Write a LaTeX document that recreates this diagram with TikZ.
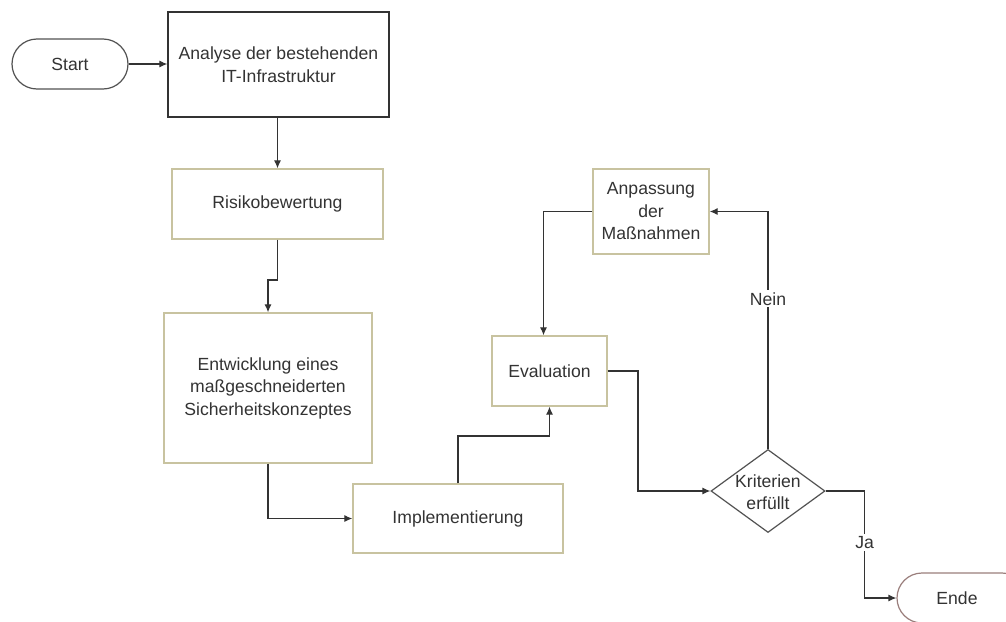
\documentclass[tikz,border=0pt]{standalone}
\usepackage{fontspec}
\setmainfont{Liberation Sans}
\usetikzlibrary{arrows.meta,shapes.geometric,shapes.misc}
\definecolor{olive}{HTML}{C8C3A0}
\definecolor{ink}{HTML}{333333}
\definecolor{endc}{HTML}{9A7E7C}
\begin{document}
\begin{tikzpicture}[x=1pt,y=-1pt,
  every node/.style={font=\fontsize{17.6}{22.5}\selectfont, text=ink},
  box/.style={draw=olive, line width=1.3pt, rectangle, align=center, inner sep=2pt},
  term/.style={draw=#1, line width=1.2pt, rounded rectangle, minimum height=50pt, inner sep=0pt},
  arr/.style={draw=ink, line width=1.2pt, -{Latex[length=8pt,width=7pt]}},
  lab/.style={fill=white, inner sep=2pt}]
\clip (0,0) rectangle (1006,621);
\fill[white] (0,0) rectangle (1006,621);

\node[term=ink!85, minimum width=116pt] (start) at (70,64) {Start};
\node[box, draw=ink, minimum width=221pt, minimum height=105pt] (analyse) at (278.5,64.5) {Analyse der bestehenden\\IT-Infrastruktur};
\node[box, minimum width=211pt, minimum height=70pt] (risiko) at (277.5,204) {Risikobewertung};
\node[box, minimum width=208pt, minimum height=150pt] (entw) at (268,388) {Entwicklung eines\\maßgeschneiderten\\Sicherheitskonzeptes};
\node[box, minimum width=210pt, minimum height=69pt] (impl) at (458,518.5) {Implementierung};
\node[box, minimum width=115pt, minimum height=70pt] (eval) at (549.5,371) {Evaluation};
\node[box, minimum width=116pt, minimum height=85pt] (anp) at (651,211.5) {Anpassung\\der\\Maßnahmen};
\node[draw=ink!85, line width=1.2pt, diamond, minimum width=114pt, minimum height=83pt, inner sep=0pt] (crit) at (768,491) {};
\node[align=center, inner sep=0pt] (crittext) at (768,492) {Kriterien\\erfüllt};
\node[term=endc, minimum width=130pt] (ende) at (962,598) {Ende\hspace*{10pt}};

\draw[arr] (start.east) -- (analyse.west |- start.east);
\draw[arr] (analyse.south -| risiko.north) -- (risiko.north);
\draw[arr] (risiko.south) -- (risiko.south |- 0,280) -| (entw.north);
\draw[arr] (entw.south) |- (impl.west);
\draw[arr] (impl.north) -- (impl.north |- 0,436) -| (eval.south);
\draw[arr] (eval.east) -- (eval.east -| 638,0) |- (crit.west);
\draw[arr] (anp.west) -| ([xshift=-6pt]eval.north);
\draw[arr] (crit.north) |- node[lab, pos=0.316] (nein) {Nein} (anp.east);
\draw[arr] (crit.east) -- ++(39,0) |- node[lab, pos=0.24] (ja) {Ja} (ende.west);
\end{tikzpicture}
\end{document}
